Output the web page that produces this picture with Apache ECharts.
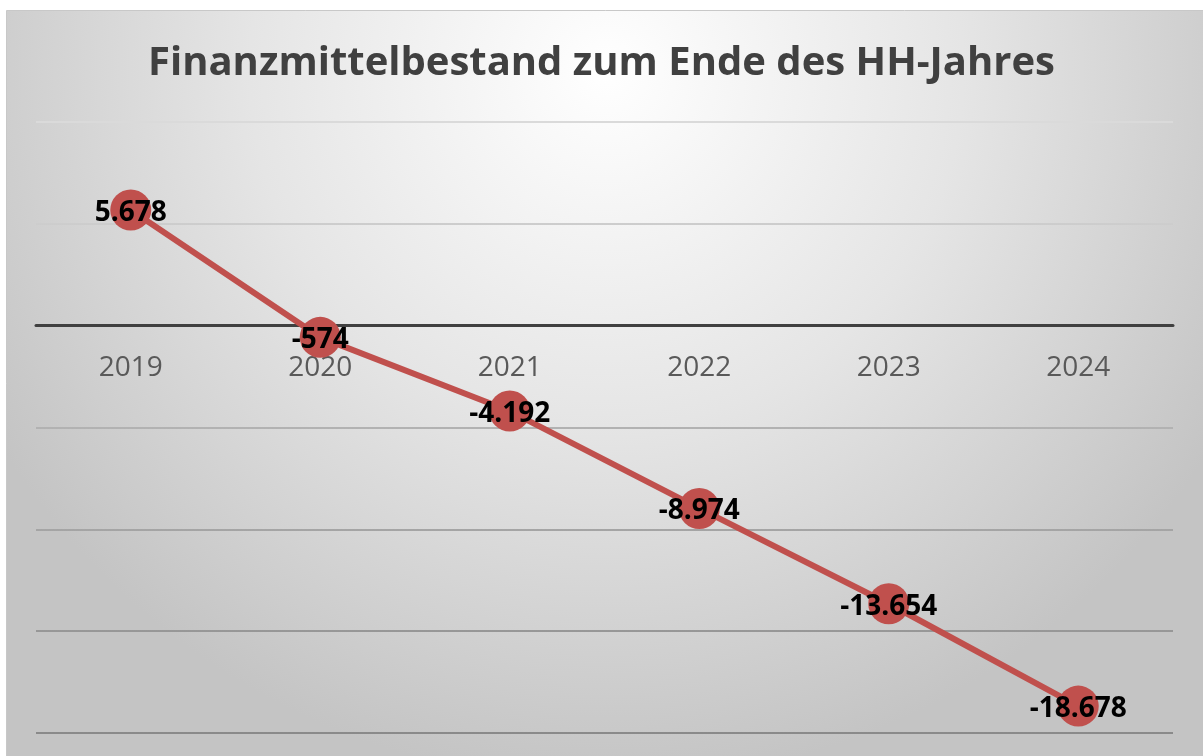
<!DOCTYPE html>
<html>
<head>
<meta charset="utf-8">
<script src="https://cdn.jsdelivr.net/npm/echarts@6/dist/echarts.min.js"></script>
<style>
html,body{margin:0;padding:0;background:#fff;}
#main{width:1203px;height:756px;}
</style>
</head>
<body>
<div id="main"></div>
<script>
// Finanzmittelbestand
var jahre = ['2019', '2020', '2021', '2022', '2023', '2024'];
var bestand = [5678, -574, -4192, -8974, -13654, -18678];
var yMin = -20000, yMax = 10000, yStep = 5000;

function fmt(v) {
	// deutsches Tausendertrennzeichen
	var s = Math.abs(v).toString().replace(/\B(?=(\d{3})+(?!\d))/g, '.');
	return (v < 0 ? '-' : '') + s;
}

var gridTop = 122, gridBottom = 733;
// x-Achse liegt auf der Null-Linie
var nullY = gridBottom - (0 - yMin) / (yMax - yMin) * (gridBottom - gridTop);

var chart = echarts.init(document.getElementById('main'));
var option = {
	backgroundColor: '#fff',
	animation: false,
	graphic: [{
		type: 'rect',
		z: -10,
		shape: { x: 6.5, y: 10.5, width: 1200, height: 750 },
		style: {
			fill: new echarts.graphic.RadialGradient(0.5, 0.08, 0.95, [
				{ offset: 0, color: '#ffffff' },
				{ offset: 0.5, color: '#e5e5e5' },
				{ offset: 1, color: '#c4c4c4' }
			]),
			stroke: '#c8c8c8',
			lineWidth: 1
		}
	}],
	title: {
		text: 'Finanzmittelbestand zum Ende des HH-Jahres',
		left: 'center',
		top: 39,
		textStyle: {
			fontFamily: 'Open Sans',
			fontWeight: 'bold',
			fontSize: 40,
			color: '#404040'
		}
	},
	grid: { left: 36, right: 30, top: gridTop, bottom: 756 - gridBottom, outerBoundsMode: 'none', containLabel: false },
	xAxis: {
		type: 'category',
		data: jahre,
		boundaryGap: true,
		position: 'bottom',
		offset: -(gridBottom - nullY),
		axisLine: { onZero: false, lineStyle: { color: '#404040', width: 3 } },
		axisTick: { show: false },
		axisLabel: {
			margin: 28,
			fontFamily: 'Open Sans',
			fontSize: 28,
			color: '#595959'
		}
	},
	yAxis: {
		type: 'value',
		min: yMin,
		max: yMax,
		interval: yStep,
		axisLine: { show: false },
		axisTick: { show: false },
		axisLabel: { show: false },
		splitLine: {
			lineStyle: {
				width: 2,
				color: new echarts.graphic.LinearGradient(0, gridTop, 0, gridBottom, [
					{ offset: 0, color: '#dadada' },
					{ offset: 1, color: '#8a8a8a' }
				], true)
			}
		}
	},
	series: [{
		type: 'line',
		data: bestand,
		symbol: 'circle',
		symbolSize: 41,
		itemStyle: { color: '#c0504d' },
		lineStyle: { color: '#c0504d', width: 6 },
		label: {
			show: true,
			position: 'inside',
			offset: [0, 3],
			fontFamily: 'Open Sans',
			fontWeight: 'bold',
			fontSize: 28,
			color: '#000',
			formatter: function (p) { return fmt(p.value); }
		}
	}]
};
chart.setOption(option);
</script>
</body>
</html>
